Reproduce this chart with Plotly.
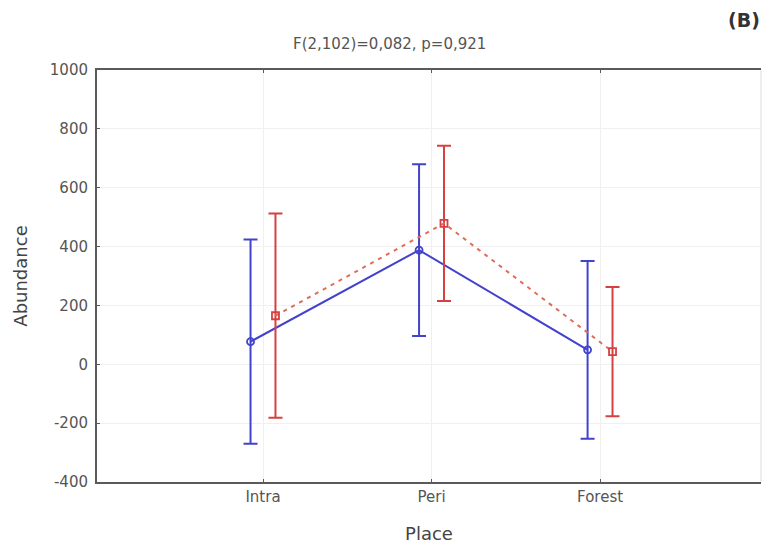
import plotly.graph_objects as go

# Abundance by place: means with confidence intervals for two groups
places = ["Intra", "Peri", "Forest"]
place_pos = [1, 2, 3]

blue_mean = [77, 388, 49]
blue_ci = [347, 292, 302]

red_mean = [165, 479, 43]
red_ci = [347, 264, 220]

y_ticks = [-400, -200, 0, 200, 400, 600, 800, 1000]
y_tick_text = [str(v) for v in y_ticks]

BLUE = "rgb(66,66,204)"
RED = "rgb(214,64,64)"
RED_LINE = "rgb(222,110,90)"
FONT = "DejaVu Sans"
offset = 0.074

fig = go.Figure()

fig.add_trace(go.Scatter(
    x=[p - offset for p in place_pos], y=blue_mean,
    mode="lines+markers",
    line=dict(color=BLUE, width=2),
    marker=dict(symbol="circle-open", size=7, color=BLUE, line=dict(width=1.8)),
    error_y=dict(type="data", array=blue_ci, color=BLUE, thickness=2, width=7),
    showlegend=False,
))

fig.add_trace(go.Scatter(
    x=[p + offset for p in place_pos], y=red_mean,
    mode="lines+markers",
    line=dict(color=RED_LINE, width=2, dash="4px,5px"),
    marker=dict(symbol="square-open", size=7, color=RED, line=dict(width=1.8)),
    error_y=dict(type="data", array=red_ci, color=RED, thickness=2, width=7),
    showlegend=False,
))

fig.update_layout(
    width=764, height=547,
    margin=dict(l=97, r=3, t=70, b=65),
    plot_bgcolor="white", paper_bgcolor="white",
    font=dict(family=FONT, size=15, color="#555"),
    xaxis=dict(
        range=[0.015, 3.955],
        tickvals=place_pos, ticktext=places,
        showgrid=True, gridcolor="#f0f0f0", gridwidth=1,
        zeroline=False,
        showline=True, linecolor="#5a5a5a", linewidth=2,
        mirror="ticks", ticks="inside", ticklen=3, tickcolor="#5a5a5a",
        tickfont=dict(size=15, color="#555"),
        title=dict(text="Place", font=dict(size=18, color="#444"), standoff=22),
    ),
    yaxis=dict(
        range=[-400, 1000],
        tickvals=y_ticks, ticktext=y_tick_text,
        showgrid=True, gridcolor="#f0f0f0", gridwidth=1,
        zeroline=False,
        showline=True, linecolor="#5a5a5a", linewidth=2,
        ticks="inside", ticklen=3, tickcolor="#5a5a5a",
        ticklabelstandoff=4,
        tickfont=dict(size=15, color="#555"),
        title=dict(text="Abundance", font=dict(size=18, color="#444"), standoff=18),
    ),
    shapes=[dict(type="line", xref="paper", yref="paper", x0=1, x1=1, y0=0, y1=1,
                 line=dict(color="#dddddd", width=1))],
    annotations=[
        dict(text="F(2,102)=0,082, p=0,921", xref="paper", yref="paper",
             x=(389 - 97) / (761 - 97), y=1, yshift=26, showarrow=False,
             font=dict(family=FONT, size=15, color="#555"), xanchor="center", yanchor="middle"),
        dict(text="<b>(B)</b>", xref="paper", yref="paper",
             x=1, xshift=1, y=1, yshift=50, showarrow=False,
             font=dict(family=FONT, size=19, color="#333"), xanchor="right", yanchor="middle"),
    ],
)

fig.write_html("out.html")
